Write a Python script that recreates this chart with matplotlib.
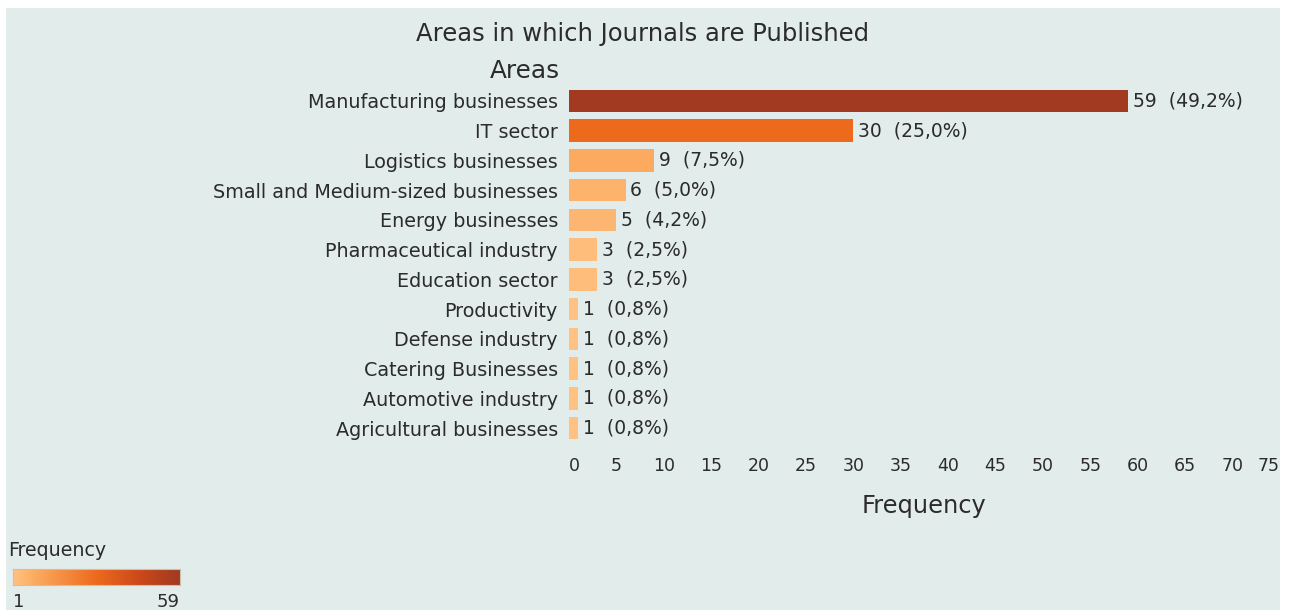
import matplotlib
matplotlib.use("Agg")
import matplotlib.pyplot as plt
import numpy as np
from matplotlib.colors import LinearSegmentedColormap, Normalize
from matplotlib.patches import Rectangle

plt.rcParams['font.family'] = ['DejaVu Sans']

areas = ['Manufacturing businesses', 'IT sector', 'Logistics businesses',
         'Small and Medium-sized businesses', 'Energy businesses',
         'Pharmaceutical industry', 'Education sector', 'Productivity',
         'Defense industry', 'Catering Businesses', 'Automotive industry',
         'Agricultural businesses']
freq = [59, 30, 9, 6, 5, 3, 3, 1, 1, 1, 1, 1]
share = [49.2, 25.0, 7.5, 5.0, 4.2, 2.5, 2.5, 0.8, 0.8, 0.8, 0.8, 0.8]
xticks = list(range(0, 80, 5))

BG = '#e2ecea'
TXT = '#2b2b2b'

cmap = LinearSegmentedColormap.from_list(
    'orange_seq',
    [(0.0, '#ffc282'), (0.15, '#fba85c'), (0.5, '#ed6a1d'),
     (0.75, '#cc4a1a'), (1.0, '#a13a20')])
norm = Normalize(vmin=min(freq), vmax=max(freq))

W, H = 1289, 610
fig = plt.figure(figsize=(W / 100, H / 100), dpi=100)
fig.patch.set_facecolor('white')
fig.patches.append(Rectangle((6 / W, 0), (1280 - 6) / W, (H - 8) / H,
                             transform=fig.transFigure, facecolor=BG,
                             edgecolor='none', zorder=-10))

ax = fig.add_axes([569 / W, 1 - 443 / H, (1280 - 569) / W, (443 - 86) / H])
ax.set_facecolor('none')
y = np.arange(len(areas))
ax.barh(y, freq, height=0.75, color=[cmap(norm(v)) for v in freq])
ax.set_xlim(0, 75)
ax.set_ylim(len(areas) - 0.5, -0.5)
ax.set_yticks(y)
ax.set_yticklabels(areas, fontsize=13.8, color=TXT)
ax.set_xticks(xticks)
ax.set_xticklabels([str(t) for t in xticks], fontsize=12.5, color=TXT)
xt = ax.get_xticklabels()
xt[0].set_ha('left')
xt[-1].set_ha('right')
ax.tick_params(axis='both', length=0)
ax.tick_params(axis='y', pad=8)
ax.tick_params(axis='x', pad=10)
for s in ax.spines.values():
    s.set_visible(False)

for i, (v, p) in enumerate(zip(freq, share)):
    lbl = '{0}  ({1:.1f}%)'.format(v, p).replace('.', ',')
    ax.text(v + 0.45, i, lbl, va='center', ha='left', fontsize=13.5, color=TXT)

ax.set_xlabel('Frequency', fontsize=17.4, color=TXT, labelpad=14)

fig.text(643 / W, 1 - 34 / H, 'Areas in which Journals are Published',
         ha='center', va='center', fontsize=17.5, color=TXT)
fig.text(560 / W, 1 - 71 / H, 'Areas', ha='right', va='center',
         fontsize=17.8, color=TXT)

# colour legend in the lower-left corner
fig.text(8 / W, 1 - 551 / H, 'Frequency', ha='left', va='center',
         fontsize=13.7, color=TXT)
cax = fig.add_axes([13 / W, 1 - 585 / H, (180 - 13) / W, 16 / H])
grad = np.linspace(0, 1, 256).reshape(1, -1)
cax.imshow(grad, aspect='auto', cmap=cmap, extent=[0, 1, 0, 1])
cax.set_xticks([])
cax.set_yticks([])
for s in cax.spines.values():
    s.set_edgecolor('#c9c0b0')
    s.set_linewidth(0.8)
fig.text(13 / W, 1 - 602 / H, str(min(freq)), ha='left', va='center',
         fontsize=13, color=TXT)
fig.text(180 / W, 1 - 602 / H, str(max(freq)), ha='right', va='center',
         fontsize=13, color=TXT)

fig.savefig('out.png', dpi=100)
